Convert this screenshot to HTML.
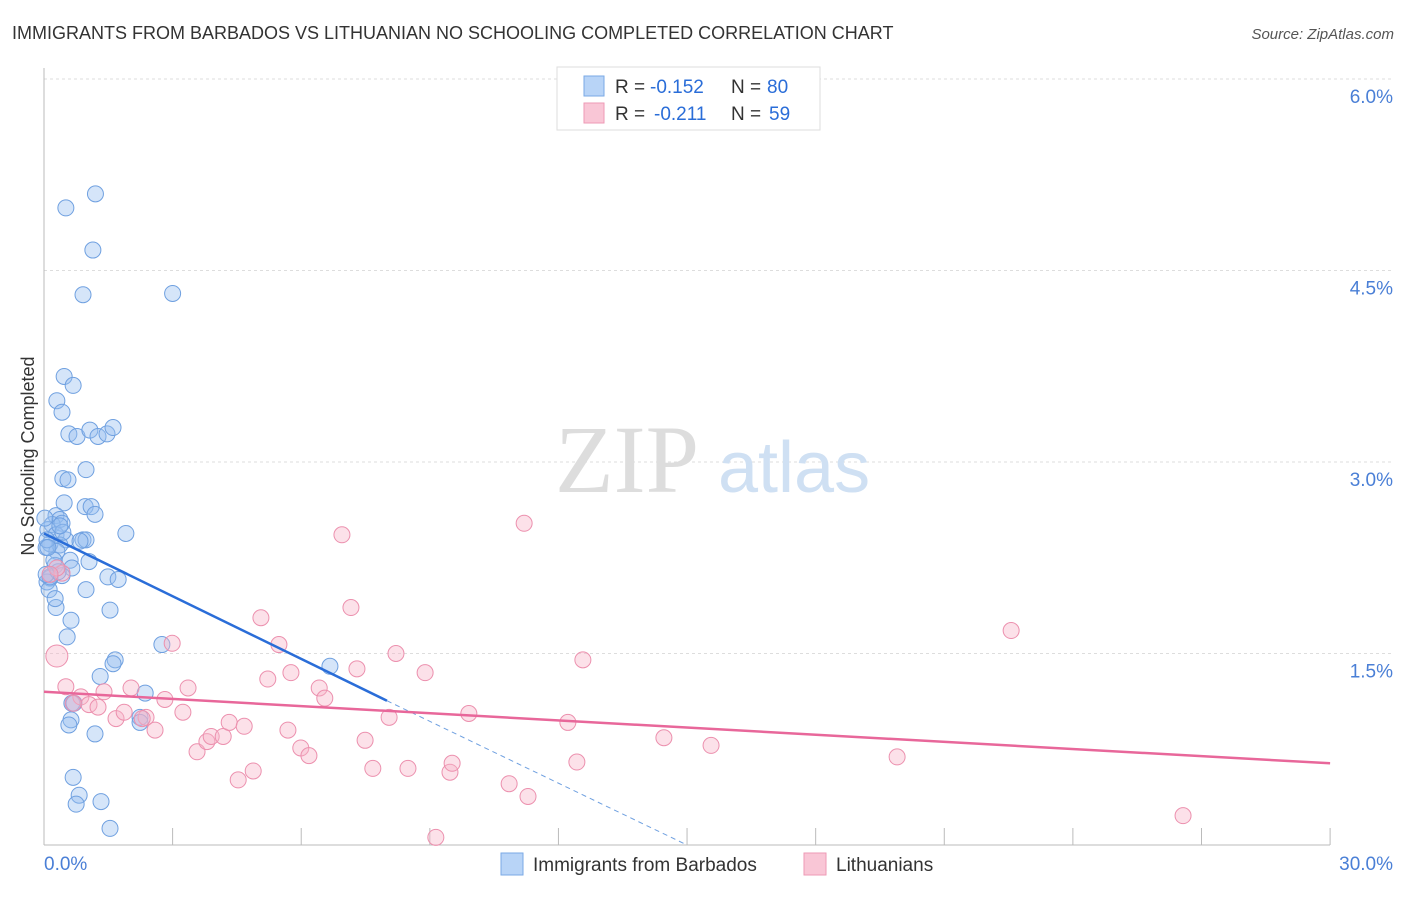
<!DOCTYPE html>
<html><head><meta charset="utf-8"><style>
body{margin:0;background:#fff;font-family:"Liberation Sans",sans-serif}
</style></head><body>
<svg width="1406" height="892" xmlns="http://www.w3.org/2000/svg" font-family="Liberation Sans, sans-serif">
<text x="12" y="39" font-size="18" fill="#333">IMMIGRANTS FROM BARBADOS VS LITHUANIAN NO SCHOOLING COMPLETED CORRELATION CHART</text>
<text x="1394" y="39" font-size="15" fill="#555" font-style="italic" text-anchor="end">Source: ZipAtlas.com</text>
<g id="grid"></g>
<g id="axes"></g>
<text x="555" y="492" font-size="96" font-family="Liberation Serif, serif" fill="#ddd">ZIP</text>
<text x="718" y="492" font-size="72" fill="#cfe0f3">atlas</text>
<text transform="translate(34,456) rotate(-90)" font-size="18" fill="#333" text-anchor="middle">No Schooling Completed</text>
<g id="pts"></g>
<g id="lines"></g>
<g>
<rect x="557" y="67" width="263" height="63" fill="#fff" stroke="#ddd"/>
<rect x="584" y="76" width="20" height="20" fill="#b8d4f7" stroke="#7aa9e6"/>
<rect x="584" y="103" width="20" height="20" fill="#f9c6d6" stroke="#ee9ab5"/>
<text x="615" y="93" font-size="19" fill="#333">R =</text>
<text x="650" y="93" font-size="19" fill="#2a6dd8">-0.152</text>
<text x="731" y="93" font-size="19" fill="#333">N =</text>
<text x="767" y="93" font-size="19" fill="#2a6dd8">80</text>
<text x="615" y="120" font-size="19" fill="#333">R =</text>
<text x="654" y="120" font-size="19" fill="#2a6dd8">-0.211</text>
<text x="731" y="120" font-size="19" fill="#333">N =</text>
<text x="769" y="120" font-size="19" fill="#2a6dd8">59</text>
</g>
<g>
<rect x="501" y="853" width="22" height="22" fill="#b8d4f7" stroke="#7aa9e6"/>
<text x="533" y="871" font-size="19" fill="#333">Immigrants from Barbados</text>
<rect x="804" y="853" width="22" height="22" fill="#f9c6d6" stroke="#ee9ab5"/>
<text x="836" y="871" font-size="19" fill="#333">Lithuanians</text>
</g>
</svg>
<script>
const yTicks=[1.5,3.0,4.5,6.0];
const yTickLabels=["1.5%","3.0%","4.5%","6.0%"];
const blueX=[1.2,0.51,1.14,0.91,3.0,0.47,0.68,0.3,0.42,0.58,0.77,1.07,1.26,1.47,1.61,0.98,0.44,0.56,0.47,0.96,1.1,1.19,0.28,0.37,0.19,0.42,1.91,0.09,0.28,0.51,0.91,0.98,0.14,0.37,0.3,0.05,0.61,1.05,0.26,0.65,0.42,1.49,1.73,0.14,0.07,0.98,0.12,0.28,1.54,0.63,0.54,2.75,6.67,1.66,1.61,1.31,2.36,0.65,0.7,0.63,0.58,2.24,2.24,1.19,0.68,0.82,0.75,1.33,1.54,0.14,0.33,0.07,0.23,0.44,0.09,0.84,0.37,0.02,0.26,0.05];
const blueY=[5.1,4.99,4.66,4.31,4.32,3.67,3.6,3.48,3.39,3.22,3.2,3.25,3.2,3.22,3.27,2.94,2.87,2.86,2.68,2.65,2.65,2.59,2.58,2.55,2.51,2.52,2.44,2.47,2.43,2.39,2.39,2.39,2.36,2.35,2.3,2.33,2.23,2.22,2.19,2.17,2.11,2.1,2.08,2.09,2.06,2.0,2.0,1.86,1.84,1.76,1.63,1.57,1.4,1.45,1.42,1.32,1.19,1.11,1.11,0.98,0.94,1.0,0.96,0.87,0.53,0.39,0.32,0.34,0.13,2.1,2.14,2.39,2.23,2.45,2.33,2.38,2.5,2.56,1.93,2.12];
const pinkX=[0.3,0.51,0.86,0.68,1.05,1.26,1.68,1.4,2.03,1.87,2.38,2.29,2.82,2.99,3.36,3.24,2.59,3.57,3.8,3.9,4.18,4.32,4.67,4.53,4.88,5.06,5.22,5.48,5.76,5.69,5.99,6.18,6.42,6.55,6.95,7.16,7.3,7.49,7.67,8.05,8.21,8.49,8.89,9.14,9.47,9.52,9.91,10.85,11.2,11.29,12.22,12.43,12.57,14.46,15.56,19.9,22.56,26.57,0.42,0.3,0.14];
const pinkY=[1.48,1.24,1.16,1.11,1.1,1.08,0.99,1.2,1.23,1.04,1.0,0.99,1.14,1.58,1.23,1.04,0.9,0.73,0.81,0.85,0.85,0.96,0.93,0.51,0.58,1.78,1.3,1.57,1.35,0.9,0.76,0.7,1.23,1.15,2.43,1.86,1.38,0.82,0.6,1.0,1.5,0.6,1.35,0.06,0.57,0.64,1.03,0.48,2.52,0.38,0.96,0.65,1.45,0.84,0.78,0.69,1.68,0.23,2.13,2.17,2.12];
const blueTrend=[[0,2.44],[8.0,1.13]];
const blueDash=[[8.0,1.13],[15.0,0]];
const pinkTrend=[[0,1.2],[30,0.64]];
const NS="http://www.w3.org/2000/svg";
const X=v=>44+v*42.87, Y=v=>845-v*127.67;
function mk(t,a,p){const e=document.createElementNS(NS,t);for(const k in a)e.setAttribute(k,a[k]);p.appendChild(e);return e;}
const grid=document.getElementById('grid'),axes=document.getElementById('axes');
yTicks.forEach((t,i)=>{const l=mk('line',{x1:44,x2:1394,y1:Y(t),y2:Y(t),stroke:'#ddd','stroke-dasharray':'3,3'},grid);

const tx=mk('text',{x:1393,y:Y(t)+24,'font-size':19,fill:'#4a7fd6','text-anchor':'end'},axes);tx.textContent=yTickLabels[i];
});
mk('line',{x1:44,x2:44,y1:68,y2:845,stroke:'#bbb'},axes);
mk('line',{x1:44,x2:1330,y1:845,y2:845,stroke:'#bbb'},axes);
for(let i=1;i<=10;i++){mk('line',{x1:X(i*3),x2:X(i*3),y1:828,y2:845,stroke:'#bbb'},axes);}
const xl=mk('text',{x:44,y:870,'font-size':19,fill:'#4a7fd6'},axes);xl.textContent='0.0%';

const xr=mk('text',{x:1393,y:870,'font-size':19,fill:'#4a7fd6','text-anchor':'end'},axes);xr.textContent='30.0%';

const pts=document.getElementById('pts');
blueX.forEach((v,i)=>{const c=mk('circle',{cx:X(v),cy:Y(blueY[i]),r:8,fill:'rgba(150,190,240,0.4)',stroke:'#6fa0e0','stroke-width':1},pts);
});
pinkX.forEach((v,i)=>{const c=mk('circle',{cx:X(v),cy:Y(pinkY[i]),r:i==0?11:8,fill:'rgba(248,180,200,0.4)',stroke:'#ec90ae','stroke-width':1},pts);
});
const lines=document.getElementById('lines');
let l1=mk('line',{x1:X(blueTrend[0][0]),y1:Y(blueTrend[0][1]),x2:X(blueTrend[1][0]),y2:Y(blueTrend[1][1]),stroke:'#2a6dd8','stroke-width':2.5},lines);

let l2=mk('line',{x1:X(blueDash[0][0]),y1:Y(blueDash[0][1]),x2:X(blueDash[1][0]),y2:Y(blueDash[1][1]),stroke:'#6fa0e0','stroke-width':1,'stroke-dasharray':'5,4'},lines);

let l3=mk('line',{x1:X(pinkTrend[0][0]),y1:Y(pinkTrend[0][1]),x2:X(pinkTrend[1][0]),y2:Y(pinkTrend[1][1]),stroke:'#e8679a','stroke-width':2.5},lines);

</script>
</body></html>
